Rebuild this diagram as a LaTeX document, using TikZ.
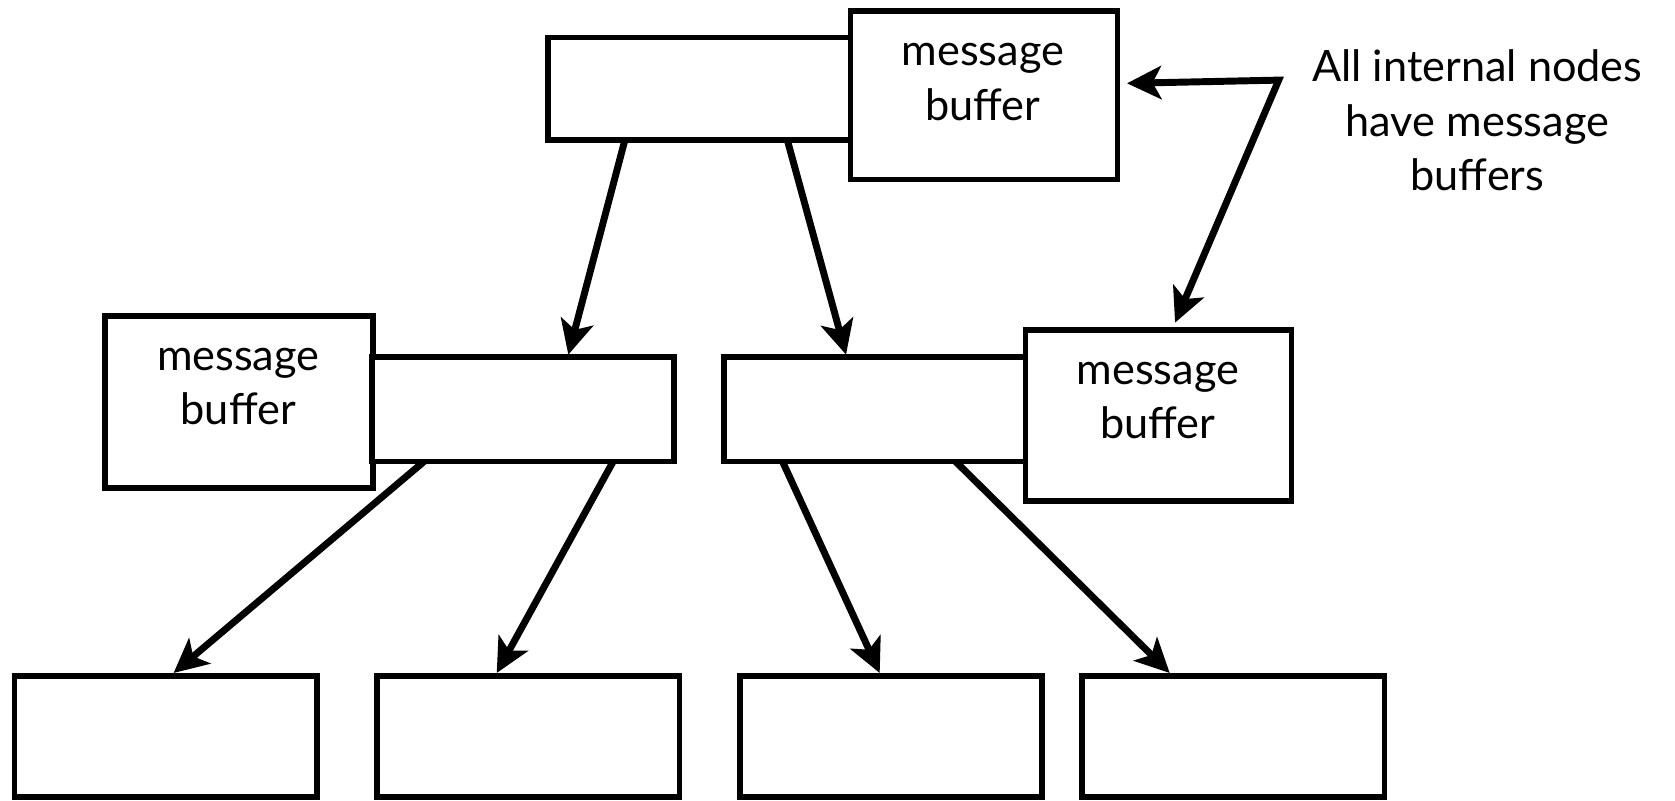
\documentclass[tikz,border=0pt]{standalone}
\usepackage{fontspec}
\setmainfont{Lato}
\usetikzlibrary{arrows.meta,calc}
\begin{document}
\begin{tikzpicture}[x=1pt,y=-1pt,
  box/.style={draw,line width=5.3pt,fill=white,inner sep=0pt,outer sep=0pt},
  treenode/.style={box,minimum width=283pt,minimum height=98pt},
  leaf/.style={box,minimum width=283pt,minimum height=113pt},
  lbl/.style={font=\fontsize{40.5}{51}\selectfont,align=center,inner sep=0pt},
  link/.style={line width=6.5pt,-{Stealth[length=32pt,width=31pt,inset=8pt]}},
  twoway/.style={line width=6.5pt,line join=miter,{Stealth[length=32pt,width=31pt,inset=8pt]}-{Stealth[length=32pt,width=31pt,inset=8pt]}}]
\useasboundingbox (0,0) rectangle (1568,749);

% root with its buffer
\node[box,minimum width=284pt,minimum height=96pt] (root) at (655,83) {};
\node[box,minimum width=250pt,minimum height=158pt] (rootbuf) at (921,89) {};
\node[lbl] (rootbuftxt) at (920,77) {message\\buffer};

% internal nodes with their buffers
\node[box,minimum width=251pt,minimum height=161pt] (lbuf) at (223.5,376.5) {};
\node[treenode] (lnode) at (489.5,383) {};
\node[lbl] (lbuftxt) at (223,362) {message\\buffer};

\node[treenode] (rnode) at (819,383) {};
\node[box,minimum width=249pt,minimum height=160pt] (rbuf) at (1084.5,389) {};
\node[lbl] (rbuftxt) at (1084,375) {message\\buffer};

% leaves
\node[leaf] (leafa) at (155,689.5) {};
\node[leaf] (leafb) at (494.5,689.5) {};
\node[leaf] (leafc) at (834,689.5) {};
\node[leaf] (leafd) at (1154.5,689.5) {};

% annotation
\node[lbl] (note) at (1383,113) {All internal nodes\\have message\\buffers};
\coordinate (bend) at (1197,75);

% tree edges
\draw[link] ($(root.south west)+(72,0)$) -- ($(lnode.north west)+(184,-2)$);
\draw[link] ($(root.south west)+(224,0)$) -- ($(lnode.north west)+(444,-2)$);
\draw[link] ($(lnode.south west)+(49,0)$) -- ($(leafa.north west)+(149,-3)$);
\draw[link] ($(lnode.south west)+(226,0)$) -- ($(leafb.north west)+(112,-3)$);
\draw[link] ($(rnode.south west)+(55,0)$) -- ($(leafc.north west)+(131,-3)$);
\draw[link] ($(rnode.south west)+(217,0)$) -- ($(leafd.north west)+(82,-3)$);

% pointer from the note to both buffers
\draw[twoway] ($(rootbuf.east)+(9,-11)$) -- (bend) -- ($(rbuf.north)+(15.5,-7)$);
\end{tikzpicture}
\end{document}
